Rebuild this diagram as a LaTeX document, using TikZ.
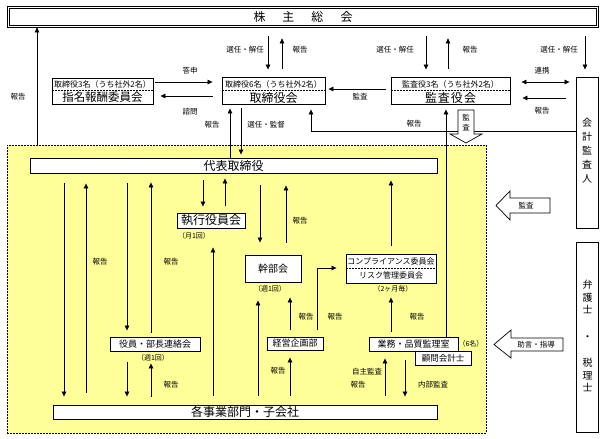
\documentclass[tikz,border=0pt]{standalone}
\usepackage{fontspec}
\setmainfont{Noto Sans CJK JP}
\usetikzlibrary{arrows.meta}
\definecolor{yel}{HTML}{FFFF99}
\begin{document}
\begin{tikzpicture}[x=1pt,y=-1pt,
  box/.style={draw, fill=white, line width=0.9pt, inner sep=0pt},
  lbl/.style={font=\fontsize{7.5}{8}\selectfont, inner sep=0pt},
  sml/.style={font=\fontsize{7}{8}\selectfont, inner sep=0pt},
  arr/.style={line width=0.7pt, -{Triangle[length=5pt,width=4.5pt]}},
  darr/.style={line width=0.7pt, {Triangle[length=5pt,width=4.5pt]}-{Triangle[length=5pt,width=4.5pt]}},
  hollow/.style={line width=0.7pt, fill=white},
  divline/.style={dashed, line width=0.6pt, dash pattern=on 2pt off 1pt}
]
\useasboundingbox (0,0) rectangle (606,439);
\fill[white] (0,0) rectangle (606,439);

% executive region
\node[draw, fill=yel, line width=0.7pt, dash pattern=on 2pt off 1pt, minimum width=479pt, minimum height=288pt, inner sep=0pt] (exec) at (246.5,289) {};

% top: general meeting (double frame)
\node[draw, line width=0.7pt, fill=white, minimum width=591pt, minimum height=21pt, inner sep=0pt, font=\fontsize{12}{12}\selectfont] (gm) at (303,16.5) {株\hspace{17pt}主\hspace{17pt}総\hspace{17pt}会};
\draw[line width=0.7pt] ([shift={(2.2pt,-2.2pt)}]gm.north west) rectangle ([shift={(-2.2pt,2.2pt)}]gm.south east);

% nomination committee
\node[box, minimum width=101pt, minimum height=26pt] (nom) at (102.5,91) {};
\draw[divline] (nom.west |- 0,90) -- (nom.east |- 0,90);
\node[font=\fontsize{8}{8}\selectfont, inner sep=0pt] (nomt) at (102.5,84) {取締役3名（うち社外2名）};
\node[font=\fontsize{11.5}{12}\selectfont, inner sep=0pt] (nomb) at (102.5,97.5) {指名報酬委員会};

% board
\node[box, minimum width=103pt, minimum height=27pt] (brd) at (273.5,90.5) {};
\draw[divline] (brd.west |- 0,90) -- (brd.east |- 0,90);
\node[font=\fontsize{8}{8}\selectfont, inner sep=0pt] (brdt) at (273.5,84) {取締役6名（うち社外2名）};
\node[font=\fontsize{12}{12}\selectfont, inner sep=0pt] (brdb) at (273.5,97.5) {取締役会};

% auditors
\node[box, minimum width=119pt, minimum height=27pt] (aud) at (450.5,90.5) {};
\draw[divline] (aud.west |- 0,90) -- (aud.east |- 0,90);
\node[font=\fontsize{8}{8}\selectfont, inner sep=0pt] (audt) at (450.5,84) {監査役3名（うち社外2名）};
\node[font=\fontsize{12}{12}\selectfont, inner sep=0pt] (audb) at (450.5,97.5) {監\hspace{1pt}査\hspace{1pt}役\hspace{1pt}会};

% accounting auditor
\node[box, minimum width=22pt, minimum height=151pt] (caa) at (587,152.5) {};
\node[font=\fontsize{10}{14}\selectfont, align=center, inner sep=0pt] (caat) at (587,151) {会\\計\\監\\査\\人};

% lawyers
\node[box, minimum width=22pt, minimum height=190pt] (law) at (587.5,337) {};
\node[font=\fontsize{10}{12.5}\selectfont, align=center, inner sep=0pt] (lawt) at (587.5,336) {弁\\護\\士\\[14pt]・\\[14pt]税\\理\\士};

% inner boxes
\node[box, minimum width=407pt, minimum height=15pt, font=\fontsize{12}{12}\selectfont] (rep) at (233.5,165.5) {代表取締役};
\node[box, minimum width=68pt, minimum height=15pt, font=\fontsize{12}{12}\selectfont] (eoc) at (211,220.5) {執行役員会};
\node[box, minimum width=56pt, minimum height=27pt, font=\fontsize{10}{10}\selectfont] (kan) at (273,268.5) {幹部会};
\node[box, minimum width=90pt, minimum height=29pt] (cmp) at (391,268.5) {};
\draw[divline] (cmp.west |- 0,268) -- (cmp.east |- 0,268);
\node[font=\fontsize{8}{8}\selectfont, inner sep=0pt] (cmpt) at (391,261.5) {コンプライアンス委員会};
\node[font=\fontsize{8}{8}\selectfont, inner sep=0pt] (cmpb) at (391,275.5) {リスク管理委員会};
\node[box, minimum width=90pt, minimum height=14pt, font=\fontsize{9}{9}\selectfont] (ybr) at (155,344) {役員・部長連絡会};
\node[box, minimum width=56pt, minimum height=13pt, font=\fontsize{9}{9}\selectfont] (kei) at (295,343.5) {経営企画部};
\node[box, minimum width=56pt, minimum height=14pt, font=\fontsize{8.5}{9}\selectfont] (kom) at (443,358) {顧問会計士};
\node[box, minimum width=89pt, minimum height=14pt, font=\fontsize{9}{9}\selectfont] (gyo) at (413.5,344) {業務・品質監理室};
\node[box, minimum width=384pt, minimum height=14pt, font=\fontsize{12}{12}\selectfont] (div) at (245,412) {各事業部門・子会社};

% --- connectors, upper part
\draw[arr] (exec.north -| 37,0) -- (gm.south -| 37,0);
\draw[arr, shorten <=9pt, shorten >=7pt] (gm.south -| 268,0) -- (brd.north -| 268,0);
\draw[arr, shorten <=8pt, shorten >=11pt] (brd.north -| 282,0) -- (gm.south -| 282,0);
\draw[arr, shorten <=2pt, shorten >=9pt] (nom.east |- 0,82) -- (brd.west |- 0,82);
\draw[arr, shorten <=9pt, shorten >=7pt] (brd.west |- 0,96) -- (nom.east |- 0,96);
\draw[arr, shorten >=4pt] (rep.north -| 230,0) -- (brd.south -| 230,0);
\draw[arr, shorten <=4pt, shorten >=3pt] (brd.south -| 241,0) -- (rep.north -| 241,0);
\draw[arr, shorten <=9pt, shorten >=7pt] (gm.south -| 426,0) -- (aud.north -| 426,0);
\draw[arr, shorten <=8pt, shorten >=11pt] (aud.north -| 448,0) -- (gm.south -| 448,0);
\draw[arr, shorten <=5pt, shorten >=3pt] (aud.west |- 0,89) -- (brd.east |- 0,89);
\draw[arr, shorten <=9pt, shorten >=7pt] (gm.south -| 585,0) -- (caa.north -| 585,0);
\draw[darr, shorten <=11pt, shorten >=6pt] (aud.east |- 0,82) -- (caa.west |- 0,82);
\draw[arr, shorten <=10pt, shorten >=12pt] (caa.west |- 0,98) -- (aud.east |- 0,98);
\draw[arr, shorten >=5pt] (caa.west |- 0,131) -| (brd.south -| 311,0);
\draw[arr, shorten >=5pt] (gyo.north -| 446,0) -- (aud.south -| 446,0);

% hollow arrows
\draw[hollow] (458,110) -- (474,110) -- (474,134) -- (482,134) -- (466,143) -- (450,134) -- (458,134) -- cycle;
\node[lbl] (ha1) at (466,117.5) {監};
\node[lbl] (ha2) at (466,127.5) {査};
\draw[hollow] (550,198) -- (510,198) -- (510,191) -- (496,205.5) -- (510,220) -- (510,213) -- (550,213) -- cycle;
\node[lbl] (ha3) at (526,205.5) {監査};
\draw[hollow] (563,338) -- (511,338) -- (511,330) -- (494,344.5) -- (511,358) -- (511,351) -- (563,351) -- cycle;
\node[lbl] (ha4) at (536,344.5) {助言・指導};

% --- connectors, executive region
\draw[arr, shorten <=10pt, shorten >=8pt] (rep.south -| 64,0) -- (div.north -| 64,0);
\draw[arr, shorten <=12pt, shorten >=10pt] (div.north -| 86,0) -- (rep.south -| 86,0);
\draw[arr, shorten <=10pt, shorten >=6pt] (rep.south -| 127,0) -- (ybr.north -| 127,0);
\draw[arr, shorten <=4pt, shorten >=9pt] (ybr.north -| 151,0) -- (rep.south -| 151,0);
\draw[arr, shorten <=11pt, shorten >=8pt] (ybr.south -| 127,0) -- (div.north -| 127,0);
\draw[arr, shorten <=8pt, shorten >=12pt] (div.north -| 151,0) -- (ybr.south -| 151,0);
\draw[arr, shorten <=7pt, shorten >=6pt] (rep.south -| 203,0) -- (eoc.north -| 203,0);
\draw[arr, shorten <=7pt, shorten >=5pt] (eoc.north -| 225,0) -- (rep.south -| 225,0);
\draw[arr, shorten <=9pt, shorten >=19pt] (div.north -| 213,0) -- (eoc.south -| 213,0);
\draw[arr, shorten <=12pt, shorten >=12pt] (rep.south -| 260,0) -- (kan.north -| 260,0);
\draw[arr, shorten <=12pt, shorten >=12pt] (kan.north -| 286,0) -- (rep.south -| 286,0);
\draw[arr, shorten <=9pt, shorten >=18pt] (div.north -| 258,0) -- (kan.south -| 258,0);
\draw[arr, shorten <=7pt, shorten >=15pt] (kei.north -| 290,0) -- (kan.south -| 290,0);
\draw[arr, shorten <=9pt, shorten >=7pt] (div.north -| 290,0) -- (kei.south -| 290,0);
\draw[arr, shorten <=7pt, shorten >=9pt] (kei.north -| 317,0) |- (cmp.west |- 0,268);
\draw[arr, shorten <=8pt, shorten >=7pt] (cmp.north -| 391,0) -- (rep.south -| 391,0);
\draw[arr, shorten <=5pt, shorten >=14pt] (gyo.north -| 391,0) -- (cmp.south -| 391,0);
\draw[arr, shorten <=9pt, shorten >=7pt] (div.north -| 385,0) -- (gyo.south -| 385,0);
\draw[arr, shorten <=9pt, shorten >=8pt] (gyo.south -| 405,0) -- (div.north -| 405,0);

% --- labels
\node[lbl] (t1) at (18,97) {報告};
\node[lbl] (t2) at (245,50) {選任・解任};
\node[lbl] (t3) at (300,50) {報告};
\node[lbl] (t4) at (190,71) {答申};
\node[lbl] (t5) at (190,112) {諮問};
\node[lbl] (t6) at (212,125) {報告};
\node[lbl] (t7) at (266,125) {選任・監督};
\node[lbl] (t8) at (395,50) {選任・解任};
\node[lbl] (t9) at (470,50) {報告};
\node[lbl] (t10) at (360,97) {監査};
\node[lbl] (t11) at (559,50) {選任・解任};
\node[lbl] (t12) at (542,71) {連携};
\node[lbl] (t13) at (542,111) {報告};
\node[lbl] (t14) at (414,124) {報告};
\node[lbl] (t15) at (100,262) {報告};
\node[lbl] (t16) at (171,262) {報告};
\node[sml] (t17) at (194,236) {（月1回）};
\node[lbl] (t18) at (300,221) {報告};
\node[sml] (t19) at (270,289) {（週1回）};
\node[sml] (t20) at (393,289) {（2ヶ月毎）};
\node[lbl] (t21) at (306,317) {報告};
\node[lbl] (t22) at (335,317) {報告};
\node[lbl] (t23) at (417,317) {報告};
\node[lbl] (t24) at (278,371) {報告};
\node[sml] (t25) at (153,358) {（週1回）};
\node[lbl] (t26) at (171,385) {報告};
\node[lbl] (t27) at (367,372) {自主監査};
\node[lbl] (t28) at (358,385) {報告};
\node[lbl] (t29) at (433,385) {内部監査};
\node[sml] (t30) at (471,343.5) {（6名）};
\end{tikzpicture}
\end{document}
